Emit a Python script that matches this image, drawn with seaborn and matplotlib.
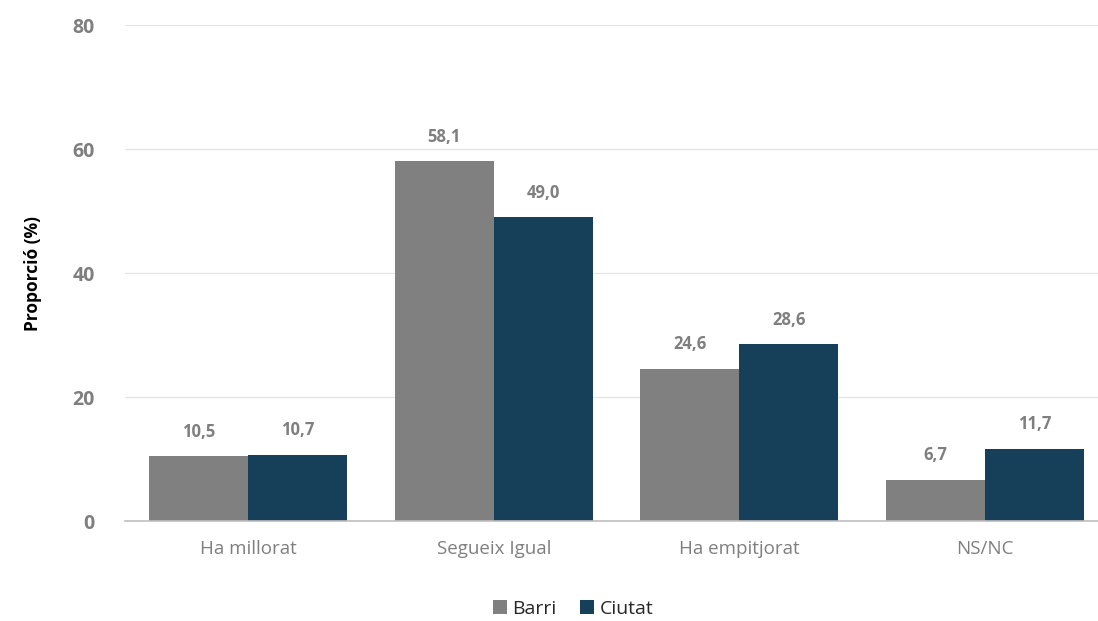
import pandas as pd
import numpy as np
import matplotlib
matplotlib.use("Agg")
from matplotlib import pyplot as plt
import seaborn as sns

categories = ['Ha millorat', 'Segueix Igual', 'Ha empitjorat', 'NS/NC']
barri = [10.5, 58.1, 24.6, 6.7]
ciutat = [10.7, 49.0, 28.6, 11.7]
series = ['Barri', 'Ciutat']
colors = ['#808080', '#163F5A']

data = pd.DataFrame({
    'categoria': categories * 2,
    'valor': barri + ciutat,
    'serie': ['Barri'] * 4 + ['Ciutat'] * 4,
})

sns.set_style("white")
plt.rcParams['font.family'] = ['Open Sans', 'DejaVu Sans']

fig = plt.figure(figsize=(10.98, 6.21), dpi=100)
# plot area runs slightly past the right edge of the image, as in the original
ax = fig.add_axes([0.114, 0.161, 0.895, 0.798])

sns.barplot(data=data, x='categoria', y='valor', hue='serie', hue_order=series,
            order=categories, palette=colors, width=0.807, saturation=1,
            linewidth=0, ax=ax)

for cont in ax.containers:
    labels = [f"{v:.1f}".replace('.', ',') for v in cont.datavalues]
    ax.bar_label(cont, labels=labels, padding=11, color='#7f7f7f',
                 fontsize=12, fontweight='bold')

ax.set_ylim(0, 80)
ax.set_yticks([0, 20, 40, 60, 80])
ax.set_xlim(-0.5, 3.5)
ax.yaxis.grid(True, color='#e6e6e6', linewidth=1)
ax.set_axisbelow(True)
for s in ['top', 'right', 'left']:
    ax.spines[s].set_visible(False)
ax.spines['bottom'].set_color('#bfbfbf')
ax.spines['bottom'].set_linewidth(1.2)

ax.tick_params(axis='y', length=0, labelsize=14, labelcolor='#7f7f7f', pad=22)
for lab in ax.get_yticklabels():
    lab.set_fontweight('bold')
ax.tick_params(axis='x', which='major', length=0, labelsize=13.5, labelcolor='#7f7f7f', pad=14)
ax.set_xticks(np.arange(-0.5, 4.0, 1.0), minor=True)
ax.tick_params(axis='x', which='minor', length=7, color='#bfbfbf', width=1.2)

ax.set_xlabel('')
ax.set_ylabel('Proporció (%)', fontsize=12.5, fontweight='bold', color='black', labelpad=22)

leg = ax.legend(loc='upper center', bbox_to_anchor=(0.522, 0.062), bbox_transform=fig.transFigure,
                ncol=2, frameon=False, fontsize=14, handlelength=0.7, handleheight=0.7,
                handletextpad=0.3, columnspacing=1.2)
for t in leg.get_texts():
    t.set_color('#262626')

plt.savefig('out.png', dpi=100)
